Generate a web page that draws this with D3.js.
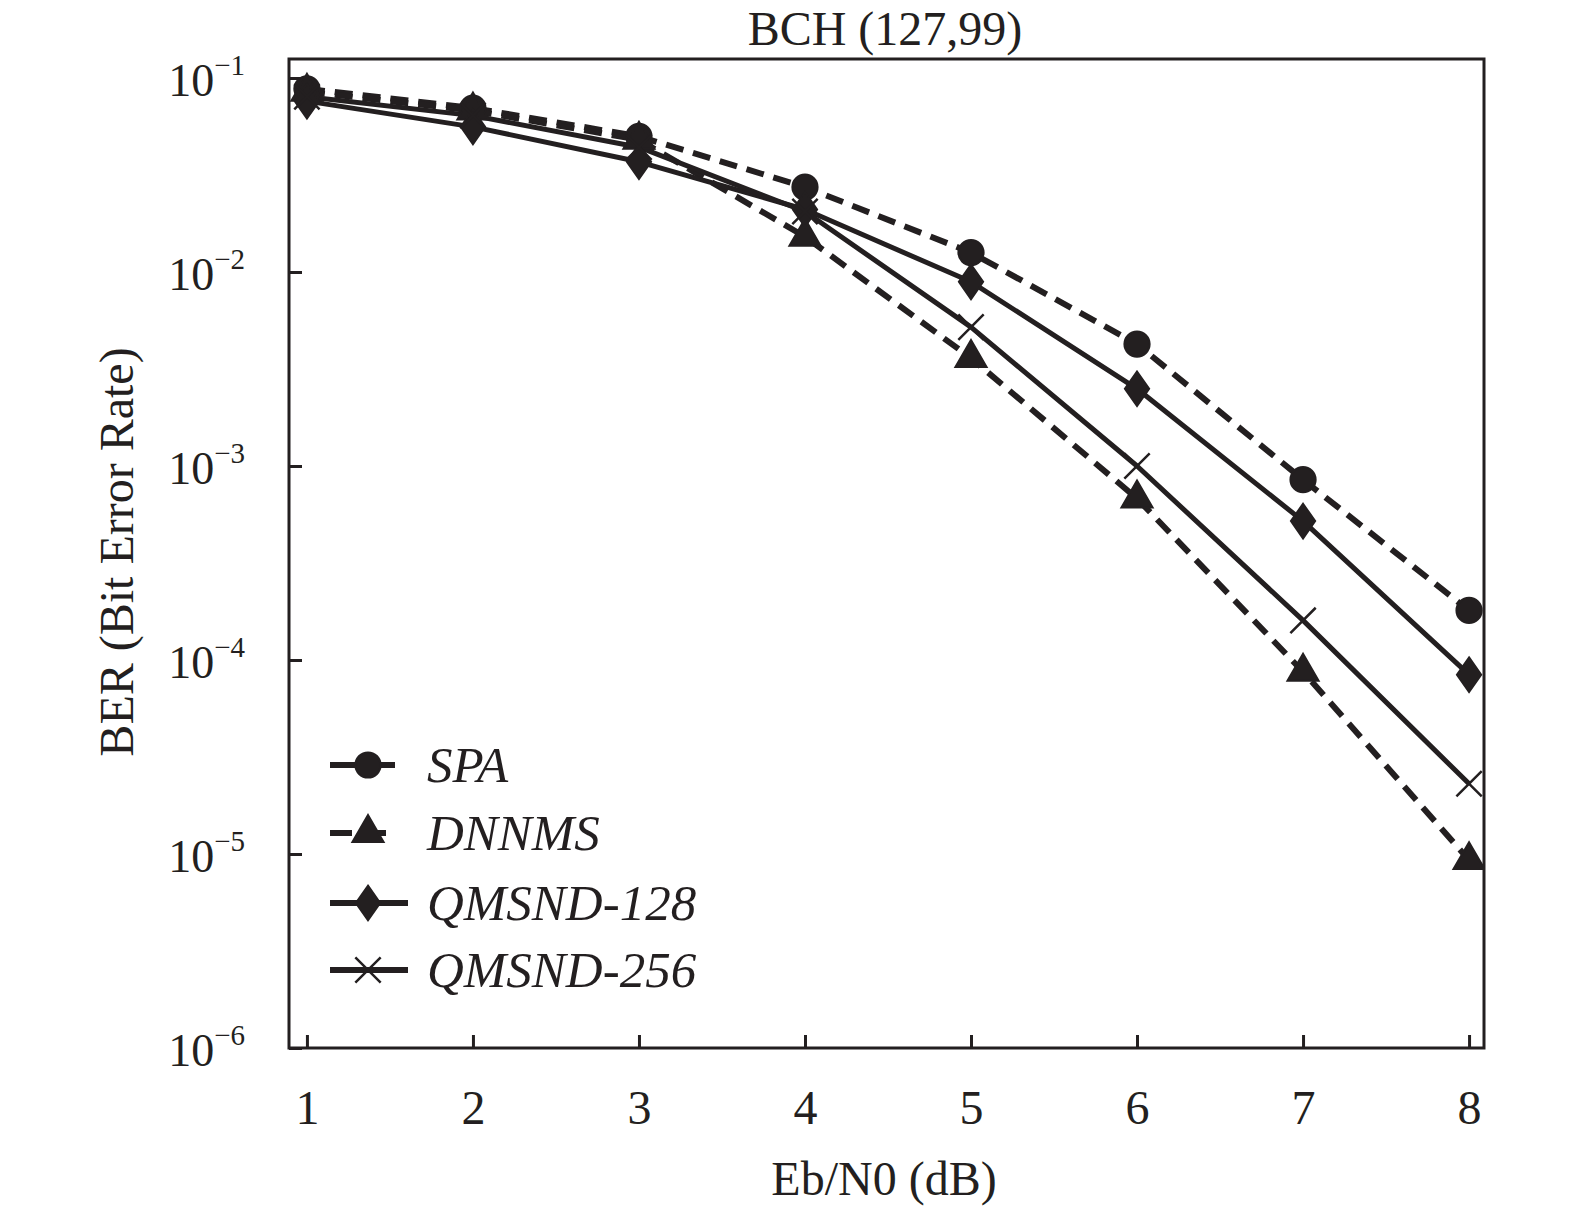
<!DOCTYPE html>
<html>
<head>
<meta charset="utf-8">
<script src="https://cdn.jsdelivr.net/npm/d3@7"></script>
<style>
  body { margin: 0; background: #fff; }
  text { font-family: "Liberation Serif", "DejaVu Serif", serif; fill: #231f20; }
</style>
</head>
<body>
<div id="chart"></div>
<script>
// Eb/N0 (dB)
const ebn0 = [1, 2, 3, 4, 5, 6, 7, 8];

// BER values per decoder
const spa      = [0.088, 0.070, 0.050, 0.0274, 0.0126, 0.00425, 8.5e-4, 1.8e-4];
const dnnms    = [0.085, 0.068, 0.048, 0.0152, 0.0036, 6.8e-4, 8.7e-5, 9.3e-6];
const qmsnd128 = [0.076, 0.056, 0.037, 0.021, 0.0089, 0.0025, 5.2e-4, 8.4e-5];
const qmsnd256 = [0.080, 0.064, 0.044, 0.0205, 0.0052, 1.0e-3, 1.6e-4, 2.3e-5];

const seriesNames = ['SPA', 'DNNMS', 'QMSND-128', 'QMSND-256'];
const xTicks = [1, 2, 3, 4, 5, 6, 7, 8];
const yTicks = [1e-1, 1e-2, 1e-3, 1e-4, 1e-5, 1e-6];

const series = [
  { name: seriesNames[0], values: spa,      dash: '18,10', marker: 'circle' },
  { name: seriesNames[1], values: dnnms,    dash: '18,10', marker: 'triangle' },
  { name: seriesNames[2], values: qmsnd128, dash: null,    marker: 'diamond' },
  { name: seriesNames[3], values: qmsnd256, dash: null,    marker: 'cross' }
];

const width = 1575, height = 1216;
const margin = { left: 289, right: 1575 - 1484, top: 59, bottom: 1216 - 1048 };
const ink = '#231f20';

const svg = d3.select('#chart')
  .append('svg')
  .attr('width', width)
  .attr('height', height);

const x = d3.scaleLinear()
  .domain([0.892, 8.09])
  .range([margin.left, width - margin.right]);

const y = d3.scaleLog()
  .domain([1e-6, Math.pow(10, -0.902)])
  .range([height - margin.bottom, margin.top]);

// clip for the data area
svg.append('clipPath').attr('id', 'plotclip')
  .append('rect')
  .attr('x', margin.left).attr('y', margin.top)
  .attr('width', width - margin.left - margin.right)
  .attr('height', height - margin.top - margin.bottom);

// x axis (ticks inward)
const xAxis = svg.append('g')
  .attr('transform', `translate(0,${height - margin.bottom})`)
  .call(d3.axisBottom(x).tickValues(xTicks).tickSizeInner(-13).tickSizeOuter(0).tickPadding(42).tickFormat(d3.format('d')));
xAxis.select('.domain').remove();
xAxis.selectAll('line').attr('stroke', ink).attr('stroke-width', 3);
xAxis.selectAll('text').attr('font-size', 48).attr('fill', ink);

// y axis (ticks inward, 10^n labels)
const yAxis = svg.append('g')
  .attr('transform', `translate(${margin.left},0)`)
  .call(d3.axisLeft(y).tickValues(yTicks).tickSizeInner(-13).tickSizeOuter(0).tickFormat(''));
yAxis.select('.domain').remove();
yAxis.selectAll('line').attr('stroke', ink).attr('stroke-width', 3);

const yLab = svg.append('g').selectAll('text')
  .data(yTicks)
  .enter()
  .append('text')
  .attr('x', 245)
  .attr('y', d => y(d) + 18)
  .attr('text-anchor', 'end')
  .attr('font-size', 46);
yLab.append('tspan').text('10');
yLab.append('tspan')
  .attr('dy', -21)
  .attr('font-size', 29)
  .text(d => '\u2212' + Math.round(-Math.log10(d)));

// frame
svg.append('rect')
  .attr('x', margin.left).attr('y', margin.top)
  .attr('width', width - margin.left - margin.right)
  .attr('height', height - margin.top - margin.bottom)
  .attr('fill', 'none')
  .attr('stroke', ink)
  .attr('stroke-width', 3);

// wider diamond than d3's default
const wideDiamond = {
  draw(ctx, size) {
    const h = Math.sqrt(size / 1.4);
    const w = h * 0.7;
    ctx.moveTo(0, -h);
    ctx.lineTo(w, 0);
    ctx.lineTo(0, h);
    ctx.lineTo(-w, 0);
    ctx.closePath();
  }
};

// markers
const sym = {
  circle: d3.symbol().type(d3.symbolCircle).size(500),
  triangle: d3.symbol().type(d3.symbolTriangle).size(420),
  diamond: d3.symbol().type(wideDiamond).size(420),
  cross: d3.symbol().type(d3.symbolX).size(420)
};

function drawMarker(g, kind, cx, cy) {
  const p = g.append('path')
    .attr('d', sym[kind]())
    .attr('transform', `translate(${cx},${cy})`);
  if (kind === 'cross') {
    p.attr('fill', 'none').attr('stroke', ink).attr('stroke-width', 2.5);
  } else {
    p.attr('fill', ink).attr('stroke', ink).attr('stroke-width', 2);
  }
}

const line = d3.line()
  .x((d, i) => x(ebn0[i]))
  .y(d => y(d));

const plot = svg.append('g').attr('clip-path', 'url(#plotclip)');

series.forEach(s => {
  plot.append('path')
    .datum(s.values)
    .attr('d', line)
    .attr('fill', 'none')
    .attr('stroke', ink)
    .attr('stroke-width', s.dash ? 6 : 5)
    .attr('stroke-dasharray', s.dash)
    .attr('stroke-linejoin', 'round');
});

series.forEach(s => {
  const g = plot.append('g');
  s.values.forEach((v, i) => drawMarker(g, s.marker, x(ebn0[i]), y(v)));
});

// legend
const legend = svg.append('g');
const legendRows = [765, 833, 903, 970];
series.forEach((s, i) => {
  const ly = legendRows[i];
  legend.append('line')
    .attr('x1', 330).attr('x2', i < 2 ? 395 : 408)
    .attr('y1', ly).attr('y2', ly)
    .attr('stroke', ink)
    .attr('stroke-width', 6)
    .attr('stroke-dasharray', i === 1 ? '22,12' : null);
  drawMarker(legend, s.marker, 368, ly);
  legend.append('text')
    .attr('x', 427)
    .attr('y', ly + 17)
    .attr('font-size', 51)
    .attr('font-style', 'italic')
    .text(s.name);
});

// title and axis labels
svg.append('text')
  .attr('x', 885).attr('y', 45)
  .attr('text-anchor', 'middle')
  .attr('font-size', 48)
  .text('BCH (127,99)');

svg.append('text')
  .attr('x', 884).attr('y', 1195)
  .attr('text-anchor', 'middle')
  .attr('font-size', 48)
  .text('Eb/N0 (dB)');

svg.append('text')
  .attr('transform', 'translate(133,552) rotate(-90)')
  .attr('text-anchor', 'middle')
  .attr('font-size', 48)
  .text('BER (Bit Error Rate)');
</script>
</body>
</html>
